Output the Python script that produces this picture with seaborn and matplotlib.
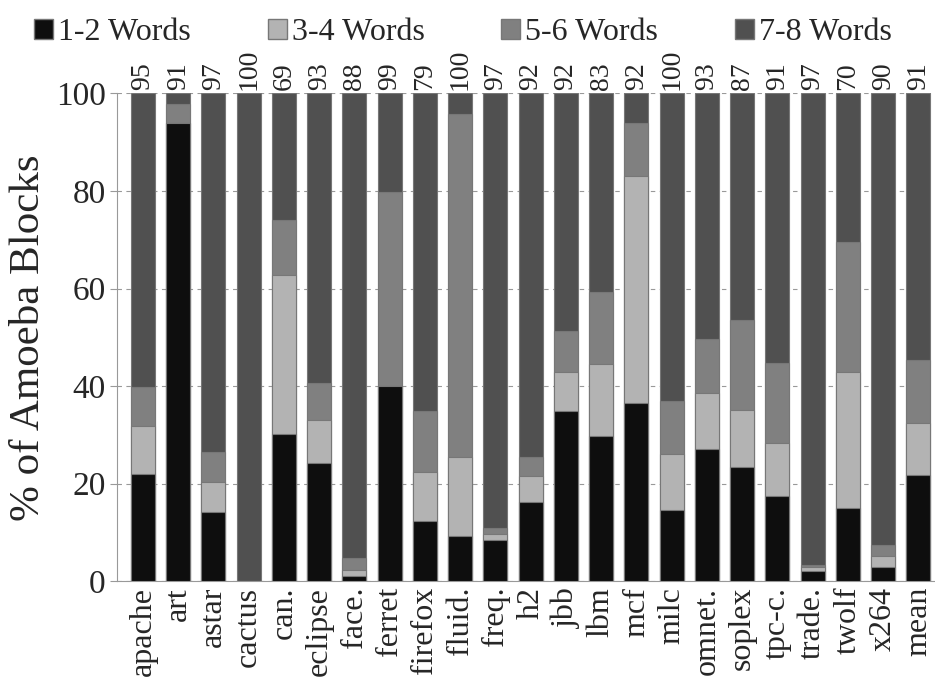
import numpy as np
import pandas as pd
import matplotlib
matplotlib.use("Agg")
import matplotlib.pyplot as plt
import matplotlib.patches as mpatches
import seaborn as sns

# Benchmarks and share of amoeba blocks (percent) per size bucket
benchmarks = ["apache", "art", "astar", "cactus", "can.", "eclipse", "face.", "ferret",
              "firefox", "fluid.", "freq.", "h2", "jbb", "lbm", "mcf", "milc", "omnet.",
              "soplex", "tpc-c.", "trade.", "twolf", "x264", "mean"]
words_1_2 = [21.9, 94.0, 14.3, 0.0, 30.2, 24.3, 1.1, 40.0, 12.4, 9.3, 8.4, 16.3, 35.0,
             29.7, 36.6, 14.6, 27.1, 23.5, 17.4, 2.1, 15.1, 2.9, 21.7]
words_3_4 = [9.9, 0.0, 6.0, 0.0, 32.5, 8.8, 1.2, 0.0, 10.1, 16.2, 1.3, 5.2, 8.0,
             14.8, 46.5, 11.4, 11.5, 11.7, 10.9, 0.8, 27.9, 2.2, 10.7]
words_5_6 = [8.1, 3.8, 6.3, 0.0, 11.3, 7.6, 2.5, 39.7, 12.4, 70.3, 1.3, 4.0, 8.4,
             14.7, 10.8, 11.0, 11.1, 18.3, 16.5, 0.5, 26.6, 2.3, 13.0]
top_labels = [95, 91, 97, 100, 69, 93, 88, 99, 79, 100, 97, 92, 92, 83, 92, 100, 93,
              87, 91, 97, 70, 90, 91]

series = ["1-2 Words", "3-4 Words", "5-6 Words", "7-8 Words"]
colors = ["#0e0e0e", "#b3b3b3", "#808080", "#505050"]

sns.set_style("white")
plt.rcParams["font.family"] = ["Liberation Serif", "DejaVu Serif"]

c1 = np.array(words_1_2)
c2 = c1 + np.array(words_3_4)
c3 = c2 + np.array(words_5_6)
c4 = np.full(len(benchmarks), 100.0)

fig = plt.figure(figsize=(9.35, 6.92), dpi=100)
ax = fig.add_axes([0.125, 0.160, 0.875, 0.705])

# stacked bars: draw cumulative totals from the top down
for cum, col in zip([c4, c3, c2, c1], colors[::-1]):
    df = pd.DataFrame({"bench": benchmarks, "value": cum})
    sns.barplot(data=df, x="bench", y="value", color=col, width=0.68,
                edgecolor="#777777", linewidth=0.8, saturation=1, ax=ax, zorder=3)

for i, lab in enumerate(top_labels):
    ax.text(i, 100.8, str(lab), rotation=90, ha="center", va="bottom", fontsize=20)

ax.set_ylim(0, 100)
ax.set_xlim(-0.74, len(benchmarks) - 0.53)
ax.set_yticks([0, 20, 40, 60, 80, 100])
ax.yaxis.grid(True, linestyle=(0, (4, 4)), color="#999999", linewidth=0.8, zorder=0)
ax.tick_params(axis="y", labelsize=24, length=5, color="#999999", left=True, pad=3)
ax.tick_params(axis="x", labelsize=23, length=0, rotation=90, pad=4)
ax.set_xlabel("")
ax.set_ylabel("% of Amoeba Blocks", fontsize=31, labelpad=6)
for s in ["top", "right"]:
    ax.spines[s].set_visible(False)
ax.spines["left"].set_color("#999999")
ax.spines["bottom"].set_color("#999999")

handles = [mpatches.Patch(facecolor=c, edgecolor="#777777", label=s) for s, c in zip(series, colors)]
fig.legend(handles=handles, loc="upper center", bbox_to_anchor=(0.495, 1.015), ncol=4,
           frameon=False, fontsize=23, handlelength=0.6, handleheight=0.6,
           handletextpad=0.15, columnspacing=2.4)

fig.savefig("out.png", dpi=100)
